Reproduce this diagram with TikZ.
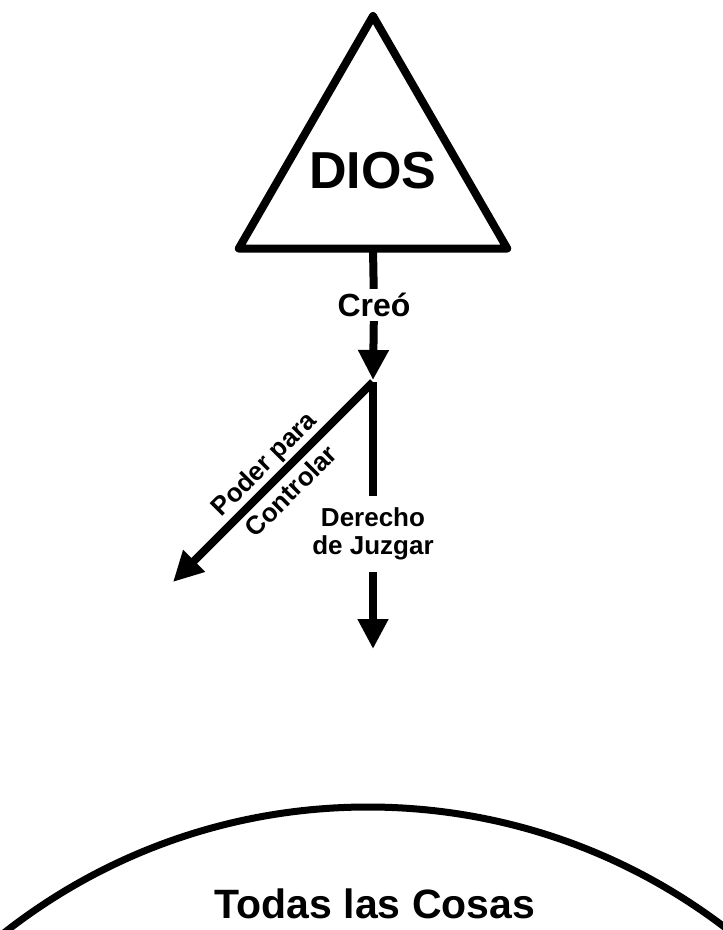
\documentclass[tikz,border=0pt]{standalone}
\usepackage{fontspec}
\setmainfont{Liberation Sans}
\usetikzlibrary{shapes.geometric,arrows.meta}

\begin{document}
\begin{tikzpicture}[x=1pt,y=-1pt,>={Triangle[length=30pt,width=29pt]},
 lin/.style={line width=8pt},
 lbl/.style={font=\bfseries,align=center,inner sep=4pt}]

	\useasboundingbox (0,0) rectangle (723,930);
	\clip (0,0) rectangle (723,930);

	\node[draw,lin,line join=round,regular polygon,regular polygon sides=3,minimum size=310pt,inner sep=0pt,outer sep=0pt,
		label={[font=\bfseries\fontsize{52}{56}\selectfont]center:DIOS}] (dios) at (373,171) {};
	\node[lbl,font=\bfseries\fontsize{32}{36}\selectfont] (creo) at (374,305) {Creó};
	\coordinate (fork) at (373,382);
	\node[lbl,inner sep=12pt,font=\bfseries\fontsize{26}{28}\selectfont] (juzgar) at (373,534) {Derecho\\de Juzgar};
	\coordinate (juzend) at (373,649);
	\coordinate (ctrlend) at (173,582);
	\node[lbl,rotate=45,inner sep=0pt,font=\bfseries\fontsize{26}{39}\selectfont] (poder) at (277,477) {Poder para\\Controlar};
	\node[draw,circle,line width=7pt,minimum size=1178pt,inner sep=0pt,outer sep=0pt] (cosas) at (368,1396) {};
	\node[lbl,font=\bfseries\fontsize{41}{45}\selectfont] (todas) at (375,904) {Todas las Cosas};

	\draw[lin] (dios.south) -- (creo);
	\draw[->,lin,shorten >=2pt] (creo) -- (fork);
	\draw[lin] (fork) -- (juzgar);
	\draw[->,lin] (juzgar) -- (juzend);
	\draw[->,lin] (fork) -- (ctrlend);
\end{tikzpicture}
\end{document}
